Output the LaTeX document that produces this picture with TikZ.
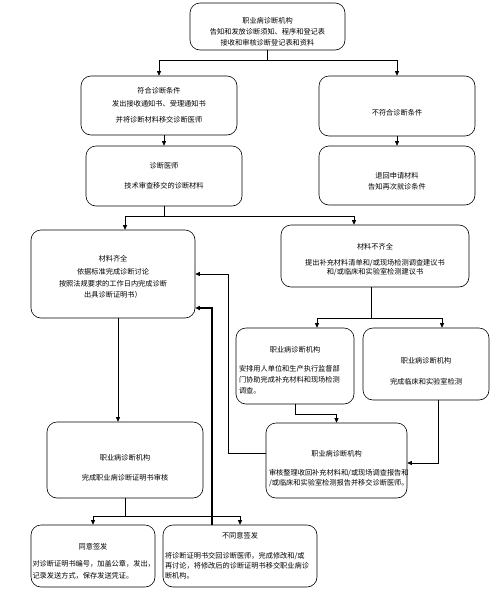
\documentclass[tikz,border=0pt]{standalone}
\usepackage{fontspec}
\setmainfont{Noto Sans CJK SC}
\usetikzlibrary{arrows.meta, calc}

\tikzset{
  flowbox/.style={draw, rounded corners=10pt, line width=0.6pt, align=center, inner sep=2pt},
  bodybox/.style={flowbox, align=left},
  flowline/.style={line width=0.6pt},
  flowarrow/.style={flowline, -{Triangle[length=4.5pt,width=4pt]}},
}
\newcommand{\vlift}[1]{\rule{0pt}{#1}}
\newcommand{\boxhead}[1]{\makebox[\hsize][c]{#1}}

\begin{document}
\begin{tikzpicture}[x=1pt, y=-1pt, font=\fontsize{7.2}{11}\selectfont]
  \useasboundingbox (0,0) rectangle (500,592);

  % Registration
  \node[flowbox, minimum width=155pt, minimum height=47pt] (reg) at (267.5,26.5)
    {\vlift{17pt}职业病诊断机构\\告知和发放诊断须知、程序和登记表\\接收和审核诊断登记表和资料};

  % Accept / refuse
  \node[flowbox, minimum width=156pt, minimum height=59pt] (accept) at (159,105.5)
    {符合诊断条件\\[2pt]发出接收通知书、受理通知书\\[5pt]并将诊断材料移交诊断医师};
  \node[flowbox, minimum width=156pt, minimum height=60pt] (refuse) at (397,106)
    {\vlift{20pt}不符合诊断条件};
  \node[flowbox, minimum width=156pt, minimum height=59pt] (giveback) at (397,175.5)
    {\vlift{18pt}退回申请材料\\告知再次就诊条件};
  \node[flowbox, minimum width=156pt, minimum height=60pt] (doctor) at (164,176)
    {诊断医师\\[9pt]技术审查移交的诊断材料};

  % Material check
  \node[flowbox, minimum width=164pt, minimum height=88pt] (complete) at (113,274)
    {\vlift{12pt}材料齐全\\[2pt]依据标准完成诊断讨论\\[1pt]按照法规要求的工作日内完成诊断\\出具诊断证明书）};
  \node[flowbox, minimum width=188pt, minimum height=62pt] (lacking) at (375,256)
    {\vlift{13pt}材料不齐全\\[5pt]提出补充材料清单和/或现场检测调查建议书\\[-1.5pt]和/或临床和实验室检测建议书};

  % Supplements
  \node[bodybox, text width=112pt, inner sep=3pt, minimum height=76pt] (assist) at (295,366)
    {\boxhead{\vlift{15pt}职业病诊断机构}\\[8pt]安排用人单位和生产执行监督部\\门协助完成补充材料和现场检测\\调查。};
  \node[flowbox, minimum width=126pt, minimum height=72pt] (lab) at (426,364)
    {\vlift{21pt}职业病诊断机构\\[10pt]完成临床和实验室检测};
  \node[bodybox, text width=135pt, inner sep=3pt, minimum height=75pt] (review) at (336.5,460.5)
    {\boxhead{\vlift{22pt}职业病诊断机构}\\[8pt]审核整理收回补充材料和/或现场调查报告和\\[-1pt]/或临床和实验室检测报告并移交诊断医师。};

  % Certificate
  \node[flowbox, minimum width=156pt, minimum height=76pt] (audit) at (125,460)
    {\vlift{22pt}职业病诊断机构\\[9pt]完成职业病诊断证明书审核};
  \node[bodybox, text width=121pt, inner sep=1.5pt, minimum height=62pt] (sign) at (93,556)
    {\boxhead{\vlift{17pt}同意签发}\\[6pt]对诊断证明书编号，加盖公章，发出，\\[1pt]记录发送方式，保存发送凭证。};
  \node[bodybox, text width=150pt, inner sep=2pt, minimum height=62pt] (nosign) at (240,556)
    {\boxhead{不同意签发}\\[9pt]将诊断证明书交回诊断医师，完成修改和/或\\[-1pt]再讨论，将修改后的诊断证明书移交职业病诊\\[-1pt]断机构。};

  % Connectors
  \draw[flowline] (reg.south) -- ++(0,10) coordinate (j1);
  \draw[flowarrow] (j1) -| (accept.north);
  \draw[flowarrow] (j1) -| (refuse.north);
  \draw[flowarrow] (doctor.north |- accept.south) -- (doctor.north);
  \draw[flowarrow] (refuse.south) -- (giveback.north);

  \draw[flowline] (doctor.south) -- ++(0,10) coordinate (j2);
  \draw[flowarrow] (j2) -| ([xshift=12pt]complete.north);
  \draw[flowarrow] (j2) -| ([xshift=-21pt]lacking.north);

  \draw[flowline] ([xshift=-4pt]lacking.south) -- ++(0,31) coordinate (j3);
  \draw[flowarrow] (j3) -| ([xshift=22pt]assist.north);
  \draw[flowarrow] (j3) -| ([xshift=16pt]lab.north);

  \draw[flowarrow] (assist.south) -- ++(0,10) -| (review.north);
  \draw[flowarrow] ([xshift=12pt]lab.south) |- ([yshift=-2.5pt]review.east);
  \draw[flowarrow] ([yshift=7.5pt]review.west) -- ++(-37,0) |- (complete.east);

  \draw[flowarrow] ([xshift=5pt]complete.south) -- ([xshift=-7pt]audit.north);
  \draw[flowline] (audit.south) -- ++(0,18) coordinate (j4);
  \draw[flowarrow] (j4) -| (sign.north);
  \draw[flowarrow] (j4) -| (nosign.north);
  \draw[flowarrow, line width=1.1pt] ([xshift=-28pt]nosign.north) |- ([yshift=-34pt]complete.east);
\end{tikzpicture}
\end{document}
